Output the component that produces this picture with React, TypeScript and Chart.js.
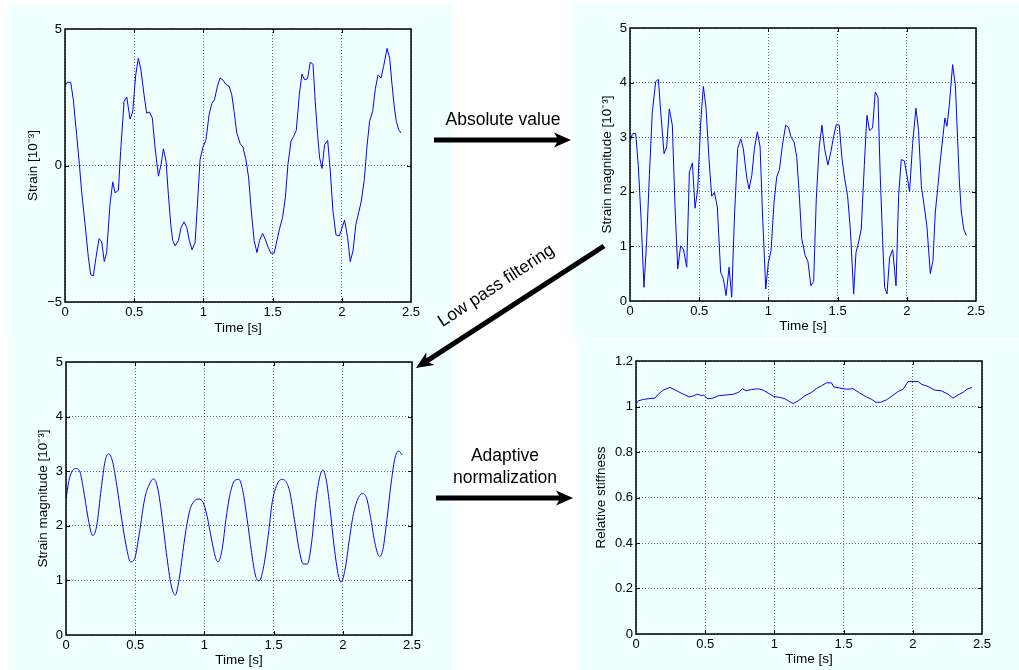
import React, { useEffect, useRef } from "react";
import { Chart, registerables } from "chart.js";

Chart.register(...registerables);

// ---------- tick labels ----------
const timeTicks = [0, 0.5, 1, 1.5, 2, 2.5];
const timeTickLabels = ["0", "0.5", "1", "1.5", "2", "2.5"];
const strainTicks = [-5, 0, 5];
const strainTickLabels = ["\u22125", "0", "5"];
const magnitudeTicks = [0, 1, 2, 3, 4, 5];
const magnitudeTickLabels = ["0", "1", "2", "3", "4", "5"];
const stiffnessTicks = [0, 0.2, 0.4, 0.6, 0.8, 1, 1.2];
const stiffnessTickLabels = ["0", "0.2", "0.4", "0.6", "0.8", "1", "1.2"];

// ---------- series: raw strain ----------
const strainTime = [
  0, 0.017, 0.041, 0.06, 0.084, 0.104, 0.12, 0.145, 0.169, 0.186, 0.205, 0.224, 0.246, 0.265, 0.284, 0.301,
  0.325, 0.345, 0.361, 0.386, 0.402, 0.427, 0.446, 0.47, 0.489, 0.511, 0.53, 0.549, 0.571, 0.59, 0.61, 0.631,
  0.651, 0.675, 0.694, 0.711, 0.73, 0.747, 0.764, 0.778, 0.795, 0.819, 0.839, 0.86, 0.88, 0.899, 0.918, 0.94,
  0.957, 0.976, 0.995, 1.019, 1.041, 1.06, 1.08, 1.101, 1.12, 1.14, 1.161, 1.186, 1.205, 1.222, 1.241, 1.266,
  1.286, 1.307, 1.327, 1.346, 1.367, 1.387, 1.406, 1.428, 1.447, 1.466, 1.488, 1.512, 1.531, 1.551, 1.572, 1.592,
  1.611, 1.633, 1.652, 1.671, 1.693, 1.712, 1.731, 1.753, 1.772, 1.792, 1.808, 1.825, 1.84, 1.857, 1.876, 1.898,
  1.917, 1.936, 1.958, 1.982, 2.001, 2.02, 2.042, 2.061, 2.081, 2.102, 2.122, 2.141, 2.163, 2.182, 2.201, 2.223,
  2.243, 2.262, 2.283, 2.302, 2.327, 2.346, 2.363, 2.38, 2.394, 2.411, 2.428,
];
const strainValues = [
  2.92, 3.05, 3.05, 2.41, 1.13, 0.04, -0.94, -2.15, -3.37, -4.0, -4.04, -3.37, -2.68, -2.79, -3.52, -3.19,
  -1.42, -0.6, -1.0, -0.91, 0.52, 2.35, 2.51, 1.7, 1.96, 3.32, 3.93, 3.5, 2.59, 1.92, 1.96, 1.74,
  0.64, -0.39, 0.04, 0.61, 0.16, -1.06, -2.15, -2.74, -2.94, -2.76, -2.27, -2.06, -2.27, -2.76, -3.09, -2.82,
  -1.42, 0.22, 0.64, 0.95, 1.86, 2.26, 2.41, 2.9, 3.2, 3.14, 2.98, 2.9, 2.59, 1.98, 1.2, 0.8,
  0.67, 0.22, -0.45, -1.67, -2.76, -3.19, -2.74, -2.49, -2.7, -2.98, -3.22, -3.21, -2.76, -2.3, -1.91, -1.18,
  0.04, 0.89, 1.07, 1.28, 2.59, 3.35, 3.14, 3.18, 3.78, 3.71, 2.35, 1.13, 0.28, -0.11, 0.77, 0.92,
  -0.21, -1.67, -2.54, -2.58, -2.3, -2.0, -2.64, -3.52, -3.13, -2.15, -1.73, -1.3, -0.51, 0.71, 1.62, 1.98,
  2.83, 3.32, 3.2, 3.63, 4.29, 3.93, 2.96, 2.1, 1.62, 1.31, 1.19,
];

// ---------- series: strain magnitude (absolute value) ----------
const magnitudeTime = [
  0, 0.017, 0.041, 0.06, 0.08, 0.101, 0.12, 0.14, 0.161, 0.186, 0.205, 0.224, 0.246, 0.265, 0.284, 0.306,
  0.325, 0.345, 0.366, 0.386, 0.41, 0.429, 0.451, 0.47, 0.489, 0.511, 0.53, 0.549, 0.571, 0.59, 0.61, 0.631,
  0.655, 0.675, 0.694, 0.716, 0.735, 0.754, 0.778, 0.8, 0.819, 0.843, 0.86, 0.88, 0.899, 0.92, 0.94, 0.959,
  0.981, 1.0, 1.019, 1.041, 1.06, 1.08, 1.101, 1.125, 1.145, 1.164, 1.186, 1.205, 1.222, 1.241, 1.266, 1.286,
  1.307, 1.327, 1.346, 1.367, 1.387, 1.406, 1.43, 1.452, 1.471, 1.49, 1.512, 1.531, 1.551, 1.572, 1.592, 1.616,
  1.633, 1.652, 1.671, 1.693, 1.712, 1.731, 1.753, 1.772, 1.792, 1.808, 1.825, 1.84, 1.857, 1.876, 1.898, 1.922,
  1.941, 1.96, 1.982, 2.001, 2.02, 2.042, 2.066, 2.085, 2.105, 2.127, 2.146, 2.17, 2.189, 2.206, 2.223, 2.243,
  2.262, 2.275, 2.29, 2.307, 2.331, 2.351, 2.363, 2.38, 2.394, 2.411, 2.43,
];
const magnitudeValues = [
  2.91, 3.06, 3.07, 2.48, 1.5, 0.25, 1.08, 2.3, 3.46, 4.02, 4.06, 3.4, 2.7, 2.82, 3.52, 3.22,
  1.75, 0.59, 1.01, 0.95, 0.62, 2.36, 2.53, 1.7, 2.05, 3.28, 3.93, 3.55, 2.6, 1.92, 1.99, 1.72,
  0.53, 0.4, 0.1, 0.62, 0.07, 1.5, 2.79, 2.97, 2.79, 2.27, 2.05, 2.3, 2.79, 3.1, 2.82, 1.5,
  0.22, 0.71, 0.92, 1.81, 2.27, 2.41, 2.85, 3.22, 3.18, 3.0, 2.91, 2.63, 1.99, 1.14, 0.83, 0.72,
  0.28, 0.36, 1.87, 2.82, 3.22, 2.79, 2.49, 2.74, 3.01, 3.23, 3.22, 2.63, 2.24, 1.93, 1.32, 0.13,
  0.89, 1.08, 1.32, 2.48, 3.4, 3.12, 3.17, 3.83, 3.73, 2.3, 1.14, 0.25, 0.13, 0.8, 0.94, 0.28,
  1.93, 2.59, 2.57, 2.3, 2.0, 2.88, 3.53, 3.12, 2.11, 1.72, 1.35, 0.5, 0.74, 1.63, 2.05, 2.6,
  3.03, 3.35, 3.2, 3.58, 4.33, 3.95, 3.22, 2.18, 1.63, 1.32, 1.2,
];

// ---------- series: low pass filtered magnitude ----------
const filteredTime = [
  0, 0.024, 0.068, 0.097, 0.126, 0.157, 0.193, 0.222, 0.254, 0.283, 0.309, 0.338, 0.367, 0.399, 0.435, 0.466,
  0.495, 0.531, 0.568, 0.604, 0.633, 0.664, 0.696, 0.725, 0.761, 0.79, 0.821, 0.857, 0.894, 0.93, 0.961, 0.99,
  1.019, 1.051, 1.08, 1.099, 1.128, 1.159, 1.188, 1.22, 1.249, 1.275, 1.309, 1.341, 1.37, 1.394, 1.425, 1.461,
  1.49, 1.522, 1.558, 1.589, 1.618, 1.65, 1.684, 1.715, 1.744, 1.775, 1.807, 1.836, 1.855, 1.879, 1.908, 1.937,
  1.969, 1.988, 2.017, 2.048, 2.077, 2.114, 2.145, 2.174, 2.203, 2.234, 2.266, 2.29, 2.319, 2.35, 2.379, 2.403,
  2.428,
];
const filteredValues = [
  2.49, 2.86, 3.05, 3.01, 2.67, 2.18, 1.82, 2.0, 2.67, 3.19, 3.32, 3.16, 2.74, 2.18, 1.63, 1.34,
  1.39, 1.88, 2.49, 2.77, 2.86, 2.67, 2.12, 1.51, 0.9, 0.73, 1.08, 1.76, 2.28, 2.46, 2.49, 2.43,
  2.18, 1.76, 1.42, 1.34, 1.57, 2.18, 2.61, 2.83, 2.85, 2.67, 2.12, 1.51, 1.08, 0.99, 1.21, 1.82,
  2.43, 2.74, 2.85, 2.81, 2.61, 2.12, 1.57, 1.3, 1.3, 1.7, 2.49, 2.92, 3.02, 2.86, 2.31, 1.63,
  1.08, 0.97, 1.21, 1.76, 2.22, 2.52, 2.59, 2.49, 2.12, 1.66, 1.44, 1.57, 2.12, 2.8, 3.26, 3.37,
  3.3,
];

// ---------- series: relative stiffness ----------
const stiffnessTime = [
  0, 0.017, 0.053, 0.101, 0.137, 0.161, 0.197, 0.245, 0.294, 0.342, 0.385, 0.414, 0.445, 0.474, 0.49, 0.515,
  0.558, 0.594, 0.654, 0.703, 0.739, 0.77, 0.794, 0.835, 0.883, 0.919, 0.967, 0.996, 1.039, 1.076, 1.107, 1.136,
  1.172, 1.22, 1.268, 1.304, 1.34, 1.376, 1.412, 1.429, 1.473, 1.521, 1.569, 1.617, 1.665, 1.701, 1.732, 1.766,
  1.809, 1.858, 1.894, 1.93, 1.966, 2.002, 2.038, 2.062, 2.11, 2.158, 2.206, 2.255, 2.291, 2.327, 2.363, 2.392,
  2.428,
];
const stiffnessValues = [
  1.013, 1.025, 1.031, 1.035, 1.037, 1.054, 1.072, 1.084, 1.069, 1.054, 1.042, 1.047, 1.054, 1.048, 1.05, 1.034,
  1.037, 1.047, 1.051, 1.054, 1.062, 1.078, 1.069, 1.075, 1.078, 1.072, 1.054, 1.044, 1.04, 1.034, 1.022, 1.013,
  1.025, 1.047, 1.062, 1.079, 1.091, 1.104, 1.104, 1.086, 1.081, 1.076, 1.078, 1.059, 1.042, 1.032, 1.019, 1.018,
  1.029, 1.05, 1.066, 1.076, 1.11, 1.11, 1.11, 1.098, 1.088, 1.072, 1.069, 1.054, 1.037, 1.051, 1.062, 1.076,
  1.084,
];

const FONT = "'Liberation Sans', Arial, Helvetica, sans-serif";
const PANEL_BG = "#F0FFFF";

const framePlugin = {
  id: "matlabFrame",
  afterDatasetsDraw(chart: any) {
    const { ctx, chartArea, scales } = chart;
    const { left, top, right, bottom } = chartArea;
    const xs = scales.x;
    const ys = scales.y;
    ctx.save();
    ctx.strokeStyle = "#000";
    ctx.lineWidth = 1;
    const tl = 4;
    ctx.beginPath();
    xs.ticks.forEach((t: any, i: number) => {
      if (i === 0 || i === xs.ticks.length - 1) return;
      const px = Math.round(xs.getPixelForValue(t.value)) + 0.5;
      ctx.moveTo(px, bottom);
      ctx.lineTo(px, bottom - tl);
      ctx.moveTo(px, top);
      ctx.lineTo(px, top + tl);
    });
    ys.ticks.forEach((t: any, i: number) => {
      if (i === 0 || i === ys.ticks.length - 1) return;
      const py = Math.round(ys.getPixelForValue(t.value)) + 0.5;
      ctx.moveTo(left, py);
      ctx.lineTo(left + tl, py);
      ctx.moveTo(right, py);
      ctx.lineTo(right - tl, py);
    });
    ctx.stroke();
    ctx.lineWidth = 1.5;
    ctx.strokeRect(left, top, right - left, bottom - top);
    ctx.restore();
  },
};

type PanelProps = {
  left: number;
  top: number;
  width: number;
  height: number;
  padLeft: number;
  padTop: number;
  padRight: number;
  padBottom: number;
  yWidth: number;
  xHeight: number;
  xs: number[];
  ys: number[];
  yTicks: number[];
  yLabels: string[];
  yTitle: string;
  smooth?: boolean;
};

function Panel(p: PanelProps) {
  const ref = useRef<HTMLCanvasElement | null>(null);
  useEffect(() => {
    if (!ref.current) return;
    const tickFont = { family: FONT, size: 13 };
    const titleFont = { family: FONT, size: 13.5 };
    const chart = new Chart(ref.current, {
      type: "line",
      data: {
        datasets: [
          {
            data: p.xs.map((x, i) => ({ x, y: p.ys[i] })),
            borderColor: "#0000FF",
            borderWidth: 1,
            pointRadius: 0,
            fill: false,
            tension: 0,
            cubicInterpolationMode: p.smooth ? "monotone" : "default",
          } as any,
        ],
      },
      options: {
        animation: false,
        responsive: false,
        maintainAspectRatio: false,
        devicePixelRatio: 1,
        events: [],
        layout: {
          padding: { left: p.padLeft, top: p.padTop, right: p.padRight, bottom: p.padBottom },
        },
        plugins: {
          legend: { display: false },
          tooltip: { enabled: false },
          title: { display: false },
        },
        scales: {
          x: {
            type: "linear",
            min: timeTicks[0],
            max: timeTicks[timeTicks.length - 1],
            afterBuildTicks: (s: any) => {
              s.ticks = timeTicks.map((v) => ({ value: v }));
            },
            afterFit: (s: any) => {
              s.height = p.xHeight;
            },
            grid: { color: "rgba(0,0,0,0.6)", lineWidth: 1, drawTicks: false },
            border: { display: false, dash: [1, 2] },
            ticks: {
              padding: 3,
              color: "#000",
              font: tickFont,
              maxRotation: 0,
              autoSkip: false,
              callback: (v: any) => timeTickLabels[timeTicks.indexOf(Number(v))],
            },
            title: { display: true, text: "Time [s]", color: "#000", font: titleFont, padding: 0 },
          },
          y: {
            type: "linear",
            min: p.yTicks[0],
            max: p.yTicks[p.yTicks.length - 1],
            afterBuildTicks: (s: any) => {
              s.ticks = p.yTicks.map((v) => ({ value: v }));
            },
            afterFit: (s: any) => {
              s.width = p.yWidth;
            },
            grid: { color: "rgba(0,0,0,0.6)", lineWidth: 1, drawTicks: false },
            border: { display: false, dash: [1, 2] },
            ticks: {
              padding: 3,
              color: "#000",
              font: tickFont,
              autoSkip: false,
              callback: (v: any) => p.yLabels[p.yTicks.indexOf(Number(v))],
            },
            title: { display: true, text: p.yTitle, color: "#000", font: titleFont, padding: 0 },
          },
        },
      } as any,
      plugins: [framePlugin],
    });
    return () => chart.destroy();
  }, []);
  return (
    <canvas
      ref={ref}
      width={p.width}
      height={p.height}
      style={{
        position: "absolute",
        left: p.left,
        top: p.top,
        width: p.width,
        height: p.height,
        background: PANEL_BG,
      }}
    />
  );
}

function arrowPoints(x1: number, y1: number, x2: number, y2: number) {
  const dx = x2 - x1;
  const dy = y2 - y1;
  const len = Math.hypot(dx, dy);
  const ux = dx / len;
  const uy = dy / len;
  const nx = -uy;
  const ny = ux;
  const shaft = 2.5;
  const headLen = 17;
  const headW = 7.5;
  const notch = 3;
  const bx = x2 - ux * headLen;
  const by = y2 - uy * headLen;
  const sx = x2 - ux * (headLen - notch);
  const sy = y2 - uy * (headLen - notch);
  const pts = [
    [x1 + nx * shaft, y1 + ny * shaft],
    [sx + nx * shaft, sy + ny * shaft],
    [bx + nx * headW, by + ny * headW],
    [x2, y2],
    [bx - nx * headW, by - ny * headW],
    [sx - nx * shaft, sy - ny * shaft],
    [x1 - nx * shaft, y1 - ny * shaft],
  ];
  return pts.map((q) => q[0].toFixed(1) + "," + q[1].toFixed(1)).join(" ");
}

export default function App() {
  return (
    <div
      style={{
        position: "absolute",
        left: 0,
        top: 0,
        width: 1019,
        height: 670,
        background: "#fff",
        overflow: "hidden",
      }}
    >
      <Panel
        left={7} top={4} width={446} height={336}
        padLeft={18} padTop={25} padRight={42} padBottom={4}
        yWidth={40} xHeight={34}
        xs={strainTime} ys={strainValues}
        yTicks={strainTicks} yLabels={strainTickLabels}
        yTitle={"Strain [10\u207B\u00B3]"}
      />
      <Panel
        left={572} top={2} width={447} height={336}
        padLeft={27} padTop={26} padRight={43} padBottom={4}
        yWidth={31} xHeight={33}
        xs={magnitudeTime} ys={magnitudeValues}
        yTicks={magnitudeTicks} yLabels={magnitudeTickLabels}
        yTitle={"Strain magnitude [10\u207B\u00B3]"}
      />
      <Panel
        left={8} top={340} width={447} height={330}
        padLeft={27} padTop={22} padRight={43} padBottom={2}
        yWidth={31} xHeight={33}
        xs={filteredTime} ys={filteredValues}
        yTicks={magnitudeTicks} yLabels={magnitudeTickLabels}
        yTitle={"Strain magnitude [10\u207B\u00B3]"}
        smooth
      />
      <Panel
        left={578} top={340} width={441} height={330}
        padLeft={15} padTop={21} padRight={37} padBottom={3}
        yWidth={43} xHeight={33}
        xs={stiffnessTime} ys={stiffnessValues}
        yTicks={stiffnessTicks} yLabels={stiffnessTickLabels}
        yTitle={"Relative stiffness"}
      />
      <svg
        width={1019}
        height={670}
        style={{ position: "absolute", left: 0, top: 0, pointerEvents: "none" }}
      >
        <g fontFamily={FONT} fontSize={17.5} fill="#000">
          <text x={503} y={125} textAnchor="middle">Absolute value</text>
          <text x={499} y={290} textAnchor="middle" transform="rotate(-33.5 499 290)">
            Low pass filtering
          </text>
          <text x={505} y={461} textAnchor="middle">Adaptive</text>
          <text x={505} y={482.5} textAnchor="middle">normalization</text>
        </g>
        <polygon points={arrowPoints(434, 140, 571, 140)} fill="#000" />
        <polygon points={arrowPoints(604, 246, 416, 368)} fill="#000" />
        <polygon points={arrowPoints(436, 498, 573, 498)} fill="#000" />
      </svg>
    </div>
  );
}
